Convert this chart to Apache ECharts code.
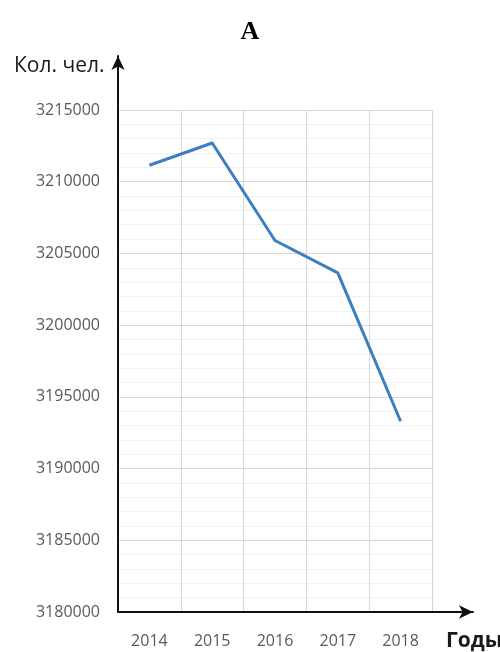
<!DOCTYPE html>
<html lang="ru">
<head>
    <meta charset="UTF-8">
    <title>A</title>
    <script src="https://cdn.jsdelivr.net/npm/echarts@6/dist/echarts.min.js"></script>
    <style>
        html, body { margin: 0; padding: 0; background: #fff; }
    </style>
</head>
<body>
<div id="main" style="width:500px;height:652px"></div>
<script type="text/javascript">
    // данные
    var years = ['2014', '2015', '2016', '2017', '2018'];
    var people = [3211150, 3212700, 3205900, 3203650, 3193300];
    var yMin = 3180000, yMax = 3215000, yStep = 5000;

    var myChart = echarts.init(document.getElementById('main'));

    var labelFont = { color: '#5a5a5a', fontSize: 16, fontFamily: 'Open Sans' };

    var option = {
        animation: false,
        backgroundColor: '#fff',
        title: [
            { text: 'A', left: 'center', top: 14,
              textStyle: { fontFamily: 'Liberation Serif', fontWeight: 'bold', fontSize: 26, color: '#000' } },
            { text: 'Кол. чел.', left: 9, top: 51,
              textStyle: { fontFamily: 'Open Sans', fontWeight: 'normal', fontSize: 21, color: '#1a1a1a' } },
            { text: 'Годы', left: 441, top: 626,
              textStyle: { fontFamily: 'Open Sans', fontWeight: 'bold', fontSize: 21, color: '#1a1a1a' } }
        ],
        grid: [
            // область с данными
            { left: 118, top: 110, right: 68, bottom: 40 },
            // оси со стрелками
            { left: 118, top: 56, right: 27, bottom: 40 }
        ],
        xAxis: [
            {
                type: 'category', gridIndex: 0, data: years, boundaryGap: true,
                axisLine: { show: false }, axisTick: { show: false },
                axisLabel: Object.assign({ margin: 21 }, labelFont),
                splitLine: { show: true, lineStyle: { color: '#d8d8d8', width: 1 } }
            },
            {
                type: 'value', gridIndex: 1, min: 0, max: 1,
                axisLine: { show: true, symbol: ['none', 'arrow'], symbolSize: [10, 14],
                    lineStyle: { color: '#111', width: 2 } },
                axisTick: { show: false }, axisLabel: { show: false }, splitLine: { show: false }
            }
        ],
        yAxis: [
            {
                type: 'value', gridIndex: 0, min: yMin, max: yMax, interval: yStep,
                axisLine: { show: false }, axisTick: { show: false },
                axisLabel: Object.assign({ margin: 18, formatter: function (v) { return String(v); } }, labelFont),
                splitLine: { show: true, lineStyle: { color: '#d8d8d8', width: 1 } },
                minorTick: { show: false, splitNumber: 5 },
                minorSplitLine: { show: true, lineStyle: { color: '#f1f1f1', width: 1 } }
            },
            {
                type: 'value', gridIndex: 1, min: 0, max: 1,
                axisLine: { show: true, symbol: ['none', 'arrow'], symbolSize: [10, 14],
                    lineStyle: { color: '#111', width: 2 } },
                axisTick: { show: false }, axisLabel: { show: false }, splitLine: { show: false }
            }
        ],
        series: [
            {
                name: 'Кол. чел.', type: 'line', xAxisIndex: 0, yAxisIndex: 0,
                data: people, showSymbol: false, symbol: 'none',
                lineStyle: { color: '#3c7fc1', width: 3 }
            }
        ]
    };

    myChart.setOption(option);
</script>
</body>
</html>
